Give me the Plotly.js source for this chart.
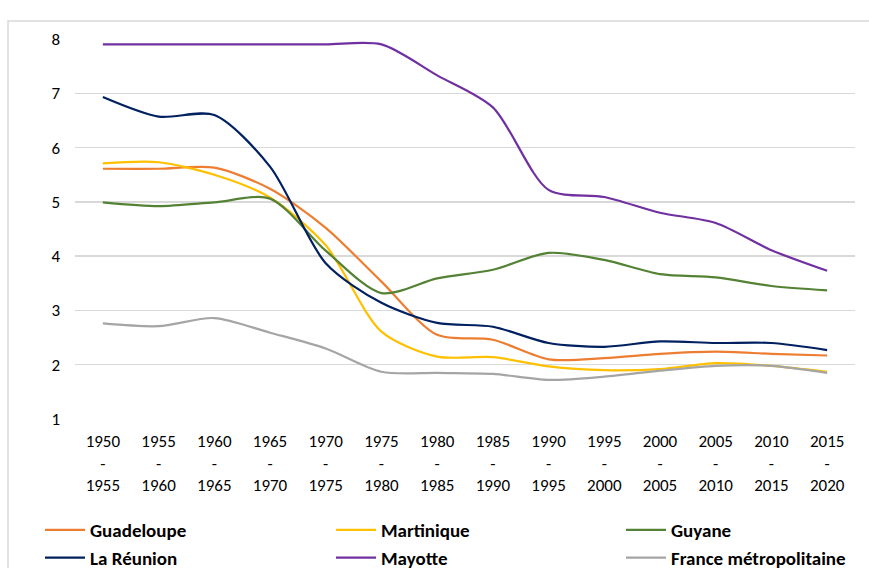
<!DOCTYPE html>
<html>
<head>
<meta charset="utf-8">
<script src="https://cdn.plot.ly/plotly-3.0.1.min.js"></script>
<style>html,body{margin:0;padding:0;background:#fff;}#chart{width:869px;height:568px;}</style>
</head>
<body>
<div id="chart"></div>
<script>
const periods = ["1950<br>-<br>1955","1955<br>-<br>1960","1960<br>-<br>1965","1965<br>-<br>1970","1970<br>-<br>1975","1975<br>-<br>1980","1980<br>-<br>1985","1985<br>-<br>1990","1990<br>-<br>1995","1995<br>-<br>2000","2000<br>-<br>2005","2005<br>-<br>2010","2010<br>-<br>2015","2015<br>-<br>2020"];
const guadeloupe = [5.61,5.61,5.63,5.24,4.52,3.53,2.55,2.46,2.10,2.12,2.20,2.24,2.20,2.17];
const martinique = [5.71,5.73,5.50,5.08,4.20,2.61,2.15,2.14,1.97,1.90,1.92,2.03,1.98,1.87];
const guyane = [4.99,4.92,4.99,5.06,4.10,3.32,3.59,3.75,4.06,3.93,3.67,3.61,3.45,3.37];
const reunion = [6.93,6.57,6.60,5.65,3.87,3.14,2.77,2.70,2.40,2.33,2.43,2.40,2.40,2.27];
const mayotte = [7.90,7.90,7.90,7.90,7.90,7.90,7.33,6.74,5.22,5.09,4.80,4.61,4.11,3.73];
const france = [2.76,2.71,2.86,2.59,2.30,1.87,1.85,1.83,1.72,1.78,1.89,1.98,1.98,1.85];

const names = ["Guadeloupe","Martinique","Guyane","La Réunion","Mayotte","France métropolitaine"];
const series = [guadeloupe, martinique, guyane, reunion, mayotte, france];
const colors = ["#ED7D31","#FFC000","#548235","#002060","#7030A0","#A5A5A5"];
// legend column for each series (3 columns, 2 rows)
const legendCols = ["legend","legend2","legend3","legend","legend2","legend3"];

const FONT = "Carlito, 'Liberation Sans Narrow', 'Liberation Sans', Arial, sans-serif";

const traces = series.map((s, i) => ({
  x: periods, y: s, name: names[i], type: "scatter", mode: "lines",
  line: {color: colors[i], width: 2.2, shape: "spline", smoothing: 0.8},
  legend: legendCols[i], legendgroup: "g" + i,
  hoverinfo: "x+y+name"
}));

const legendFont = {family: FONT, size: 19, color: "#000", weight: "bold"};
function mkLegend(px) {
  return {
    orientation: "v", x: (px-75)/780, xanchor: "left", y: (419-511)/380, yanchor: "top",
    font: legendFont, bgcolor: "rgba(0,0,0,0)", tracegroupgap: 4, traceorder: "normal",
    itemwidth: 40
  };
}

const layout = {
  width: 869, height: 568,
  paper_bgcolor: "#ffffff", plot_bgcolor: "#ffffff",
  margin: {l: 75, r: 14, t: 39, b: 149, autoexpand: false},
  font: {family: FONT, color: "#000000", size: 16},
  showlegend: true,
  xaxis: {
    type: "category", range: [-0.5, 13.5], showgrid: false, zeroline: false, showline: false,
    ticks: "", tickfont: {family: FONT, size: 17, color: "#000"}, ticklabelstandoff: 10,
    fixedrange: true
  },
  yaxis: {
    range: [1, 8], dtick: 1, tick0: 1, showgrid: true, gridcolor: "#D9D9D9", gridwidth: 1.5,
    zeroline: false, showline: false, ticks: "", ticklen: 0, ticklabelstandoff: 14,
    tickfont: {family: FONT, size: 17, color: "#000"}, fixedrange: true
  },
  legend: mkLegend(40),
  legend2: mkLegend(331),
  legend3: mkLegend(621),
  shapes: [{
    type: "rect", xref: "paper", yref: "paper",
    x0: (8-75)/780, x1: 1.2, y0: -0.6, y1: (419-21)/380,
    line: {color: "#D9D9D9", width: 1.5}, fillcolor: "rgba(0,0,0,0)", layer: "below"
  }]
};

Plotly.newPlot("chart", traces, layout, {displayModeBar: false, staticPlot: true});
</script>
</body>
</html>
